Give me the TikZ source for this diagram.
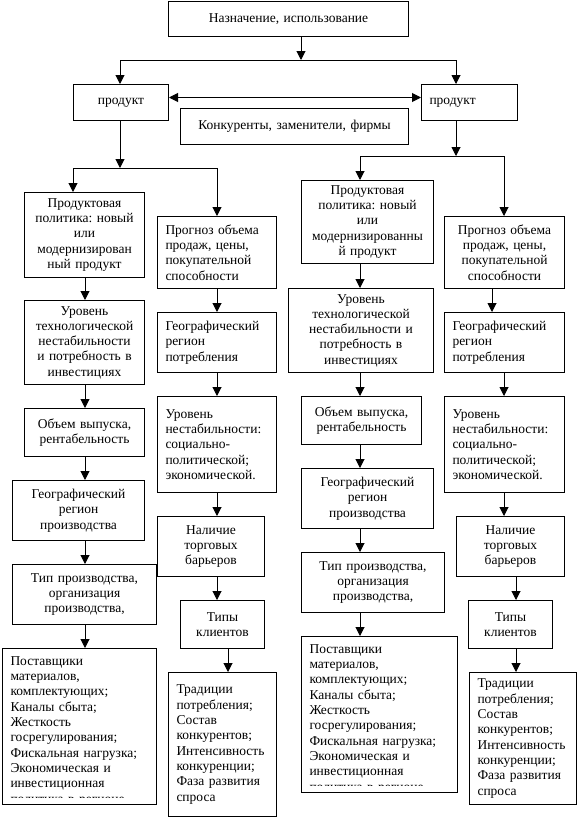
\documentclass[tikz,border=0pt]{standalone}
\usepackage{fontspec}
\setmainfont{Liberation Serif}
\usepackage{tikz}
\usetikzlibrary{arrows.meta}
\frenchspacing

\tikzset{
  box/.style={draw, line width=1pt, anchor=north west, inner ysep=0pt,
              font=\fontsize{13.5}{15.3}\selectfont},
  cbox/.style={box, inner xsep=4pt, align=center},
  lbox/.style={box, inner xsep=8pt, align=left},
  link/.style={line width=1pt},
  arr/.style={link, ->},
  dblarr/.style={link, <->}
}

\begin{document}
\begin{tikzpicture}[x=1pt, y=-1pt, >={Triangle[width=9pt,length=9pt]}]
  \useasboundingbox (0,0) rectangle (579,819);

  % top level
  \node[cbox, text width=232pt, minimum height=35pt] (use) at (168,1) {Назначение, использование};
  \node[cbox, text width=87pt, minimum height=36pt] (prodL) at (73,84) {продукт};
  \node[lbox, text width=80pt, minimum height=36pt] (prodR) at (421,84) {продукт};
  \node[cbox, text width=220pt, minimum height=36pt] (comp) at (180,108) {Конкуренты, заменители, фирмы};

  % left tree
  \node[cbox, text width=112pt, minimum height=85pt] (ppL) at (24,192)
    {Продуктовая\\политика: новый\\или\\модернизирован\\ный продукт};
  \node[cbox, text width=112pt, minimum height=84pt] (tuL) at (24,300)
    {Уровень\\технологической\\нестабильности\\и потребность в\\инвестициях};
  \node[cbox, text width=112pt, minimum height=48pt] (ovL) at (24,408)
    {Объем выпуска,\\рентабельность};
  \node[cbox, text width=124pt, minimum height=60pt] (grL) at (12,480)
    {Географический\\регион\\производства};
  \node[cbox, text width=136pt, minimum height=60pt] (tpL) at (12,564)
    {Тип производства,\\организация\\производства,};
  \node[lbox, minimum width=154pt, minimum height=156pt] (spL) at (2,648) {};
  \begin{scope}
    \clip (spL.north west) rectangle ([yshift=8pt]spL.south east);
    \node[lbox, draw=none, text width=138pt, inner ysep=8pt] (spLt) at (spL.north west)
      {Поставщики\\материалов,\\комплектующих;\\Каналы сбыта;\\Жесткость\\госрегулирования;\\Фискальная нагрузка;\\Экономическая и\\инвестиционная\\политика в регионе};
  \end{scope}

  \node[lbox, text width=103pt, minimum height=72pt] (fcL) at (157,216)
    {Прогноз объема\\продаж, цены,\\покупательной\\способности};
  \node[lbox, text width=103pt, minimum height=60pt] (gcL) at (157,312)
    {Географический\\регион\\потребления};
  \node[lbox, text width=103pt, minimum height=96pt] (unL) at (157,396)
    {Уровень\\нестабильности:\\социально-\\политической;\\экономической.};
  \node[cbox, text width=99pt, minimum height=60pt] (tbL) at (157,516)
    {Наличие\\торговых\\барьеров};
  \node[cbox, text width=76pt, minimum height=48pt] (clL) at (180,600)
    {Типы\\клиентов};
  \node[lbox, text width=92pt, minimum height=144pt] (trL) at (168,672)
    {Традиции\\потребления;\\Состав\\конкурентов;\\Интенсивность\\конкуренции;\\Фаза развития\\спроса};

  % right tree
  \node[cbox, text width=124pt, minimum height=83pt] (ppR) at (301,180)
    {Продуктовая\\политика: новый\\или\\модернизированны\\й продукт};
  \node[cbox, text width=137pt, minimum height=84pt] (tuR) at (288,288)
    {Уровень\\технологической\\нестабильности и\\потребность в\\инвестициях};
  \node[cbox, text width=112pt, minimum height=48pt] (ovR) at (301,396)
    {Объем выпуска,\\рентабельность};
  \node[cbox, text width=124pt, minimum height=60pt] (grR) at (301,468)
    {Географический\\регион\\производства};
  \node[cbox, text width=135pt, minimum height=60pt] (tpR) at (301,552)
    {Тип производства,\\организация\\производства,};
  \node[lbox, minimum width=156pt, minimum height=156pt] (spR) at (301,636) {};
  \begin{scope}
    \clip (spR.north west) rectangle ([yshift=8pt]spR.south east);
    \node[lbox, draw=none, text width=140pt, inner ysep=8pt] (spRt) at (spR.north west)
      {Поставщики\\материалов,\\комплектующих;\\Каналы сбыта;\\Жесткость\\госрегулирования;\\Фискальная нагрузка;\\Экономическая и\\инвестиционная\\политика в регионе};
  \end{scope}

  \node[cbox, text width=112pt, minimum height=72pt] (fcR) at (444,216)
    {Прогноз объема\\продаж, цены,\\покупательной\\способности};
  \node[lbox, text width=104pt, minimum height=60pt] (gcR) at (444,312)
    {Географический\\регион\\потребления};
  \node[lbox, text width=104pt, minimum height=96pt] (unR) at (444,396)
    {Уровень\\нестабильности:\\социально-\\политической;\\экономической.};
  \node[cbox, text width=100pt, minimum height=60pt] (tbR) at (456,516)
    {Наличие\\торговых\\барьеров};
  \node[cbox, text width=76pt, minimum height=48pt] (clR) at (468,600)
    {Типы\\клиентов};
  \node[lbox, text width=91pt, minimum height=132pt] (trR) at (469,672)
    {Традиции\\потребления;\\Состав\\конкурентов;\\Интенсивность\\конкуренции;\\Фаза развития\\спроса};

  % connectors at the top
  \coordinate (jT) at (301,60);
  \coordinate (sL) at (120,60);
  \coordinate (sR) at (456,60);
  \draw[arr] (use.south -| jT) -- (jT);
  \draw[link] (sL) -- (sR);
  \draw[arr] (sL) -- (sL |- prodL.north);
  \draw[arr] (sR) -- (sR |- prodR.north);
  \draw[dblarr] ([yshift=5pt]prodL.east) -- ([yshift=5pt]prodR.west);

  % splits under the products
  \coordinate (jL) at (120,168);
  \coordinate (jL1) at (73,168);
  \coordinate (jL2) at (217,168);
  \draw[arr] (jL |- prodL.south) -- (jL);
  \draw[link] (jL1) -- (jL2);
  \draw[arr] (jL1) -- (jL1 |- ppL.north);
  \draw[arr] (jL2) -- (jL2 |- fcL.north);

  \coordinate (jR) at (456,156);
  \coordinate (jR1) at (360,156);
  \coordinate (jR2) at (504,156);
  \draw[arr] (jR |- prodR.south) -- (jR);
  \draw[link] (jR1) -- (jR2);
  \draw[arr] (jR1) -- (jR1 |- ppR.north);
  \draw[arr] (jR2) -- (jR2 |- fcR.north);

  % chains
  \foreach \a/\b/\x in {ppL/tuL/85, tuL/ovL/85, ovL/grL/85, grL/tpL/85, tpL/spL/85,
                        fcL/gcL/217, gcL/unL/217, unL/tbL/217, tbL/clL/217, clL/trL/228,
                        ppR/tuR/360, tuR/ovR/360, ovR/grR/360, grR/tpR/360, tpR/spR/360,
                        fcR/gcR/492, gcR/unR/504, unR/tbR/504, tbR/clR/516, clR/trR/516}
    \draw[arr] (\a.south -| \x,0) -- (\b.north -| \x,0);
\end{tikzpicture}
\end{document}
